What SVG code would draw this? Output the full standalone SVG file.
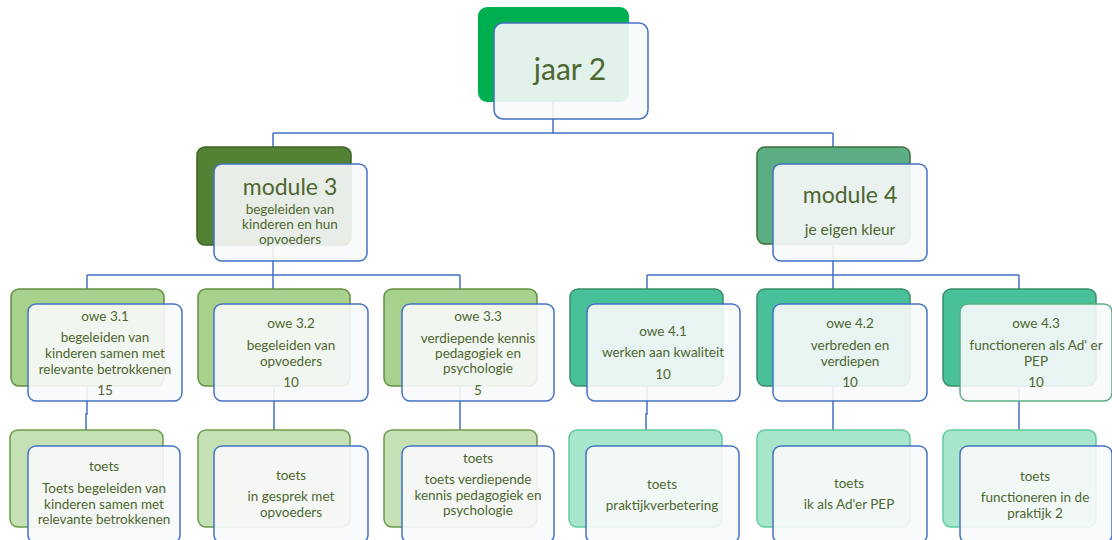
<svg xmlns="http://www.w3.org/2000/svg" width="1112" height="540" viewBox="0 0 1112 540">
<style>
.bg{stroke-width:1.5}
.fr{fill:#F8FAFB;fill-opacity:0.9;stroke:#4472C4;stroke-width:1.5}
.frg{fill:#F8FAFB;fill-opacity:0.9;stroke:#5BAE84;stroke-width:1.5}
.c{fill:none;stroke:#4472C4;stroke-width:1.5}
text{font-family:Lato,"Liberation Sans",sans-serif;fill:#4E6630;text-anchor:middle}
.t{font-size:13.5px}
.k{font-size:15.5px}
.m{font-size:23px}
.j{font-size:30px}
.g0{fill:#00B050}
.g3{fill:#548235;stroke:#3D6126}
.g4{fill:#5BAE84;stroke:#3F6E3C}
.o3{fill:#A9D18E;stroke:#638F41}
.o4{fill:#48C09A;stroke:#3A8F68}
.s3{fill:#C5E0B4;stroke:#6A9A48}
.s4{fill:#A8E6CC;stroke:#5FCB9E}
</style>
<rect width="1112" height="540" fill="#ffffff"/>
<g id="connectors">
<path class="c" d="M553 101V133M273 133H833M273 133V289M833 133V289"/>
<path class="c" d="M87 275H460M87 275V289M460 275V289"/>
<path class="c" d="M647 275H1019M647 275V289M1019 275V289"/>
<path class="c" d="M87 386V414H86V430M274 386V430M460 386V430M647 386V414H646V430M833 386V430M1019 386V430"/>
</g>
<g id="jaar2">
<rect class="g0" x="478" y="7" width="151" height="95" rx="9"/>
<rect class="fr" x="494" y="23" width="154" height="96" rx="9"/>
<text class="j" x="570" y="80">jaar 2</text>
</g>
<g id="module3">
<rect class="bg g3" x="197" y="147" width="154" height="98" rx="8"/>
<rect class="fr" x="214" y="164" width="153" height="97" rx="8"/>
<text class="m" x="290" y="195">module 3</text>
<text class="t" x="290" y="214">begeleiden van</text>
<text class="t" x="290" y="229">kinderen en hun</text>
<text class="t" x="290" y="244">opvoeders</text>
</g>
<g id="module4">
<rect class="bg g4" x="757" y="147" width="153" height="97" rx="8"/>
<rect class="fr" x="773" y="164" width="154" height="97" rx="8"/>
<text class="m" x="850" y="203">module 4</text>
<text class="k" x="850" y="235">je eigen kleur</text>
</g>
<g id="owe31">
<rect class="bg o3" x="11" y="289" width="153" height="97" rx="8"/>
<rect class="fr" x="28" y="304" width="154" height="97" rx="8"/>
<text class="t" x="105" y="321">owe 3.1</text>
<text class="t" x="105" y="342">begeleiden van</text>
<text class="t" x="105" y="358">kinderen samen met</text>
<text class="t" x="105" y="374">relevante betrokkenen</text>
<text class="t" x="105" y="395">15</text>
</g>
<g id="owe32">
<rect class="bg o3" x="198" y="289" width="152" height="97" rx="8"/>
<rect class="fr" x="214" y="304" width="154" height="97" rx="8"/>
<text class="t" x="291" y="328">owe 3.2</text>
<text class="t" x="291" y="350">begeleiden van</text>
<text class="t" x="291" y="366">opvoeders</text>
<text class="t" x="291" y="387">10</text>
</g>
<g id="owe33">
<rect class="bg o3" x="384" y="289" width="153" height="97" rx="8"/>
<rect class="fr" x="402" y="304" width="152" height="97" rx="8"/>
<text class="t" x="478" y="321">owe 3.3</text>
<text class="t" x="478" y="343">verdiepende kennis</text>
<text class="t" x="478" y="358">pedagogiek en</text>
<text class="t" x="478" y="373">psychologie</text>
<text class="t" x="478" y="395">5</text>
</g>
<g id="owe41">
<rect class="bg o4" x="570" y="289" width="153" height="97" rx="8"/>
<rect class="fr" x="587" y="304" width="153" height="97" rx="8"/>
<text class="t" x="663" y="336">owe 4.1</text>
<text class="t" x="663" y="357">werken aan kwaliteit</text>
<text class="t" x="663" y="379">10</text>
</g>
<g id="owe42">
<rect class="bg o4" x="757" y="289" width="153" height="97" rx="8"/>
<rect class="fr" x="773" y="304" width="154" height="97" rx="8"/>
<text class="t" x="850" y="328">owe 4.2</text>
<text class="t" x="850" y="350">verbreden en</text>
<text class="t" x="850" y="366">verdiepen</text>
<text class="t" x="850" y="387">10</text>
</g>
<g id="owe43">
<rect class="bg o4" x="943" y="289" width="153" height="97" rx="8"/>
<rect class="frg" x="960" y="304" width="152" height="97" rx="8"/>
<text class="t" x="1036" y="328">owe 4.3</text>
<text class="t" x="1036" y="350">functioneren als Ad' er</text>
<text class="t" x="1036" y="366">PEP</text>
<text class="t" x="1036" y="387">10</text>
</g>
<g id="toets31">
<rect class="bg s3" x="10" y="430" width="153" height="97" rx="8"/>
<rect class="fr" x="28" y="446" width="152" height="97" rx="8"/>
<text class="t" x="104" y="471">toets</text>
<text class="t" x="104" y="493">Toets begeleiden van</text>
<text class="t" x="104" y="509">kinderen samen met</text>
<text class="t" x="104" y="524">relevante betrokkenen</text>
</g>
<g id="toets32">
<rect class="bg s3" x="198" y="430" width="152" height="97" rx="8"/>
<rect class="fr" x="214" y="446" width="154" height="97" rx="8"/>
<text class="t" x="291" y="480">toets</text>
<text class="t" x="291" y="501">in gesprek met</text>
<text class="t" x="291" y="517">opvoeders</text>
</g>
<g id="toets33">
<rect class="bg s3" x="384" y="430" width="153" height="97" rx="8"/>
<rect class="fr" x="402" y="446" width="152" height="97" rx="8"/>
<text class="t" x="478" y="463">toets</text>
<text class="t" x="478" y="484">toets verdiepende</text>
<text class="t" x="478" y="500">kennis pedagogiek en</text>
<text class="t" x="478" y="515">psychologie</text>
</g>
<g id="toets41">
<rect class="bg s4" x="569" y="430" width="153" height="97" rx="8"/>
<rect class="fr" x="586" y="446" width="153" height="97" rx="8"/>
<text class="t" x="662" y="489">toets</text>
<text class="t" x="662" y="510">praktijkverbetering</text>
</g>
<g id="toets42">
<rect class="bg s4" x="757" y="430" width="153" height="97" rx="8"/>
<rect class="fr" x="773" y="446" width="154" height="97" rx="8"/>
<text class="t" x="849" y="488">toets</text>
<text class="t" x="849" y="509">ik als Ad'er PEP</text>
</g>
<g id="toets43">
<rect class="bg s4" x="943" y="430" width="153" height="97" rx="8"/>
<rect class="fr" x="960" y="446" width="152" height="97" rx="8"/>
<text class="t" x="1035" y="481">toets</text>
<text class="t" x="1035" y="502">functioneren in de</text>
<text class="t" x="1035" y="518">praktijk 2</text>
</g>
</svg>
